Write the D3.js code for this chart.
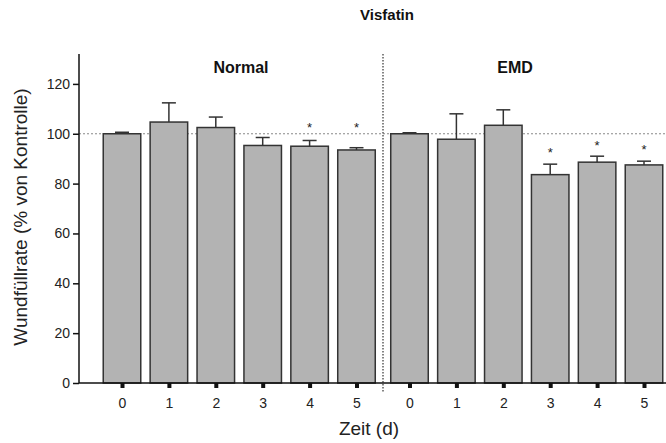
<!DOCTYPE html>
<html>
<head>
<meta charset="utf-8">
<script src="https://cdn.jsdelivr.net/npm/d3@7"></script>
<style>
  body { margin: 0; background: #fff; }
  svg { font-family: "Liberation Sans", Arial, sans-serif; }
  .y-axis text { font-size: 14px; fill: #222; }
  .x-axis text { font-size: 14px; fill: #222; }
</style>
</head>
<body>
<svg width="666" height="443"></svg>
<script>
// data
const groups = ["Normal", "EMD"];
const days = ["0", "1", "2", "3", "4", "5"];
const normalMean = [100, 104.7, 102.5, 95.3, 95, 93.5];
const normalErr = [0.6, 7.7, 4.2, 3.2, 2.3, 0.9];
const emdMean = [100, 97.8, 103.4, 83.6, 88.6, 87.5];
const emdErr = [0.4, 10.2, 6.2, 4.2, 2.4, 1.5];
// asterisk positions (value units), null = no marker
const normalStar = [null, null, null, null, 103.2, 103.2];
const emdStar = [null, null, null, 92.9, 96, 94.4];
const yTicks = [0, 20, 40, 60, 80, 100, 120];

// chart dimensions
const axisLeftX = 79;
const axisRightX = 666;
const yTop = 54;
const yBottom = 383;
const gapFrac = 0.13;

// build rows
const rows = [];
groups.forEach((g, gi) => {
  const means = gi === 0 ? normalMean : emdMean;
  const errs = gi === 0 ? normalErr : emdErr;
  const stars = gi === 0 ? normalStar : emdStar;
  days.forEach((d, i) => {
    rows.push({
      group: g,
      day: d,
      pos: gi * 6 + i + gi * gapFrac,
      mean: means[i],
      err: errs[i],
      star: stars[i]
    });
  });
});

// scales
const x = d3.scaleLinear()
  .domain([0, 11 + gapFrac])
  .range([122, 644]);
const step = x(1) - x(0);
const barW = step * 0.8;
const y = d3.scaleLinear()
  .domain([0, 132])
  .range([yBottom, yTop]);

const svg = d3.select("svg");

// reference line at 100
svg.append("line")
  .attr("x1", axisLeftX).attr("x2", axisRightX)
  .attr("y1", y(100)).attr("y2", y(100))
  .attr("stroke", "#888")
  .attr("stroke-width", 1)
  .attr("stroke-dasharray", "2,2");

// error bars
const eb = svg.append("g");
eb.selectAll("line.v")
  .data(rows)
  .enter().append("line")
  .attr("x1", d => x(d.pos)).attr("x2", d => x(d.pos))
  .attr("y1", d => y(d.mean)).attr("y2", d => y(d.mean + d.err))
  .attr("stroke", "#333").attr("stroke-width", 1.5);
eb.selectAll("line.cap")
  .data(rows)
  .enter().append("line")
  .attr("x1", d => x(d.pos) - 7).attr("x2", d => x(d.pos) + 7)
  .attr("y1", d => y(d.mean + d.err)).attr("y2", d => y(d.mean + d.err))
  .attr("stroke", "#333").attr("stroke-width", 1.5);

// bars
svg.append("g")
  .selectAll("rect")
  .data(rows)
  .enter().append("rect")
  .attr("x", d => x(d.pos) - barW / 2)
  .attr("width", barW)
  .attr("y", d => y(d.mean))
  .attr("height", d => y(0) - y(d.mean))
  .attr("fill", "#b3b3b3")
  .attr("stroke", "#333")
  .attr("stroke-width", 1.5);

// asterisks
svg.append("g")
  .selectAll("text")
  .data(rows.filter(d => d.star !== null))
  .enter().append("text")
  .attr("x", d => x(d.pos))
  .attr("y", d => y(d.star) + 6)
  .attr("text-anchor", "middle")
  .attr("font-size", 13)
  .attr("fill", "#222")
  .text("*");

// divider between groups
const divX = (x(5) + x(6 + gapFrac)) / 2;
svg.append("line")
  .attr("x1", divX).attr("x2", divX)
  .attr("y1", yTop).attr("y2", 392)
  .attr("stroke", "#333")
  .attr("stroke-width", 1.2)
  .attr("stroke-dasharray", "1.5,1.5");

// y axis
const yAxis = d3.axisLeft(y)
  .tickValues(yTicks)
  .tickSize(6)
  .tickPadding(3);
const gy = svg.append("g")
  .attr("class", "y-axis")
  .attr("transform", "translate(" + axisLeftX + ",0)")
  .call(yAxis);
gy.select(".domain").remove();
gy.selectAll(".tick line").attr("stroke", "#111").attr("stroke-width", 1.5);
gy.append("line")
  .attr("x1", 0).attr("x2", 0)
  .attr("y1", yTop).attr("y2", yBottom)
  .attr("stroke", "#111").attr("stroke-width", 1.5);

// x axis
const xAxis = d3.axisBottom(x)
  .tickValues(rows.map(d => d.pos))
  .tickFormat((d, i) => rows[i].day)
  .tickSize(0)
  .tickPadding(15);
const gx = svg.append("g")
  .attr("class", "x-axis")
  .attr("transform", "translate(0," + yBottom + ")")
  .call(xAxis);
gx.select(".domain").remove();
gx.append("line")
  .attr("x1", axisLeftX).attr("x2", axisRightX)
  .attr("y1", 0).attr("y2", 0)
  .attr("stroke", "#111").attr("stroke-width", 1.5);
gx.selectAll(".tick")
  .append("rect")
  .attr("x", -2).attr("y", 0)
  .attr("width", 4).attr("height", 5)
  .attr("fill", "#111");

// group labels
svg.selectAll("text.group")
  .data(groups)
  .enter().append("text")
  .attr("class", "group")
  .attr("x", (d, i) => i === 0 ? 241 : 515)
  .attr("y", 73)
  .attr("text-anchor", "middle")
  .attr("font-size", 16)
  .attr("font-weight", "bold")
  .attr("fill", "#111")
  .text(d => d);

// title
svg.append("text")
  .attr("x", 387).attr("y", 20)
  .attr("text-anchor", "middle")
  .attr("font-size", 15)
  .attr("font-weight", "bold")
  .attr("fill", "#111")
  .text("Visfatin");

// axis labels
svg.append("text")
  .attr("x", 369).attr("y", 435)
  .attr("text-anchor", "middle")
  .attr("font-size", 19)
  .attr("fill", "#222")
  .text("Zeit (d)");
svg.append("text")
  .attr("transform", "rotate(-90)")
  .attr("x", -217).attr("y", 27)
  .attr("text-anchor", "middle")
  .attr("font-size", 19)
  .attr("fill", "#222")
  .text("Wundfüllrate (% von Kontrolle)");
</script>
</body>
</html>
